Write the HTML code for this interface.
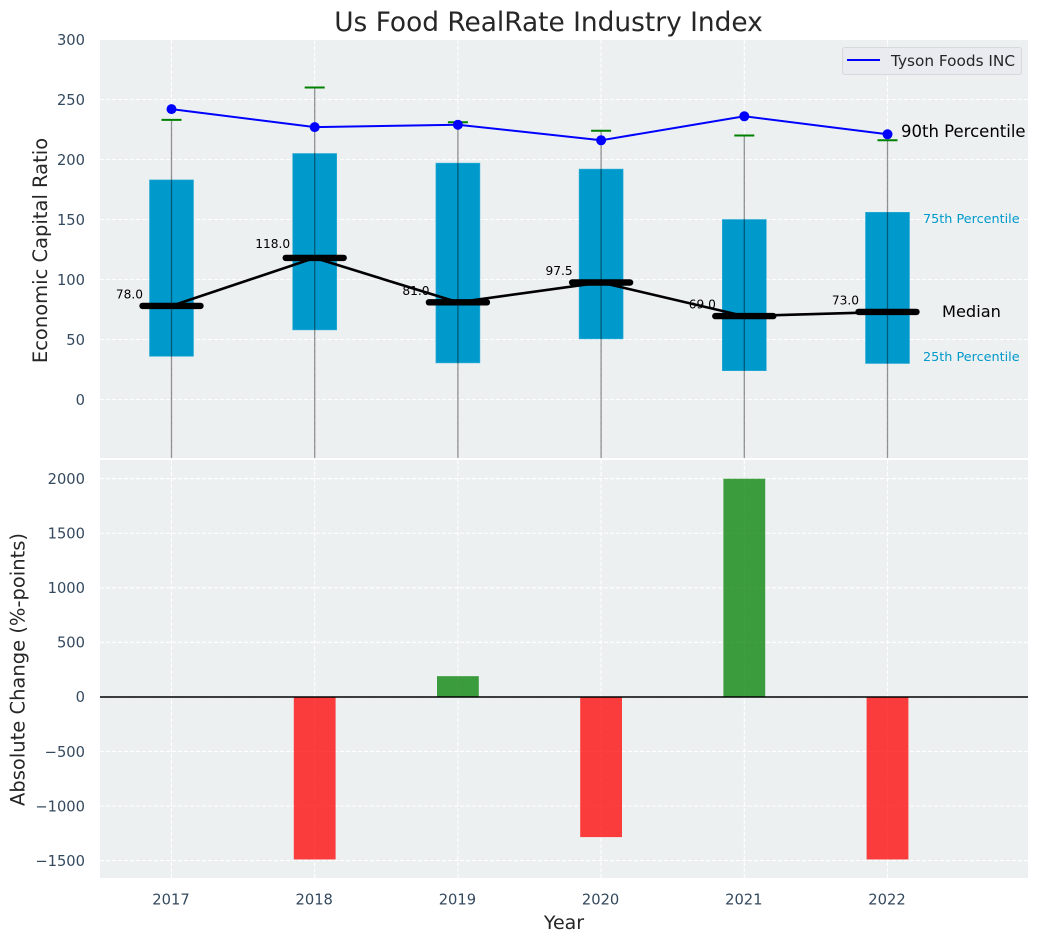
<!DOCTYPE html>
<html lang="en">
<head>
<meta charset="utf-8">
<title>Us Food RealRate Industry Index</title>
<style>
html,body{margin:0;padding:0;background:#fff;}
svg{display:block;font-family:"DejaVu Sans","Liberation Sans",sans-serif;}
</style>
</head>
<body>
<svg id="chart" width="1039" height="942" viewBox="0 0 1039 942" xmlns="http://www.w3.org/2000/svg">
  <defs>
    <clipPath id="top-clip"><rect x="100" y="40" width="928" height="418"/></clipPath>
    <clipPath id="bottom-clip"><rect x="100" y="460" width="928" height="418"/></clipPath>
  </defs>
  <rect x="100" y="40" width="928" height="418" fill="#ecf0f1"/>
  <rect x="100" y="460" width="928" height="418" fill="#ecf0f1"/>
  <g id="top-grid"></g>
  <g id="bottom-grid"></g>
  <g id="top-marks" clip-path="url(#top-clip)"></g>
  <g id="bottom-marks" clip-path="url(#bottom-clip)"></g>
  <g id="labels"></g>
  <text x="548.5" y="31" font-size="26.4" text-anchor="middle" fill="#262626">Us Food RealRate Industry Index</text>
  <text transform="translate(47,250.5) rotate(-90)" font-size="19.5" text-anchor="middle" fill="#262626">Economic Capital Ratio</text>
  <text transform="translate(24.5,669.5) rotate(-90)" font-size="19.5" text-anchor="middle" fill="#262626">Absolute Change (%-points)</text>
  <text x="564" y="929" font-size="19" text-anchor="middle" fill="#262626">Year</text>
  <text x="901" y="137" font-size="16.5" fill="#000">90th Percentile</text>
  <text x="942" y="317" font-size="16.2" fill="#000">Median</text>
  <text x="923" y="223" font-size="12.8" fill="#0099cc">75th Percentile</text>
  <text x="923" y="361" font-size="12.8" fill="#0099cc">25th Percentile</text>
  <g>
    <rect x="842.5" y="47.5" width="179" height="27" rx="2.5" fill="#e9ebf0" stroke="#d6d8da"/>
    <line x1="847" x2="880" y1="60" y2="60" stroke="#0000ff" stroke-width="2"/>
    <text x="891" y="66" font-size="15.3" fill="#262626">Tyson Foods INC</text>
  </g>
</svg>
<script>
const years = [2017, 2018, 2019, 2020, 2021, 2022];
const q1 = [36, 58, 30.5, 50.5, 24, 30];
const q3 = [183, 205, 197, 192, 150, 156];
const median = [78, 118, 81, 97.5, 69.5, 73];
const medianLabels = ["78.0", "118.0", "81.0", "97.5", "69.0", "73.0"];
const p90 = [233, 260, 231, 224, 220, 216];
const p10 = [-60, -60, -60, -60, -60, -60];
const tyson = [242, 227, 229, 216, 236, 221];
const change = [0, -1490, 190, -1285, 2000, -1490];
const topTicks = [0, 50, 100, 150, 200, 250, 300];
const bottomTicks = [-1500, -1000, -500, 0, 500, 1000, 1500, 2000];

const NS = 'http://www.w3.org/2000/svg';
const xScale = v => 171.5 + (v - 2017) * 143.2;
const yTop = v => 399.5 - v * 1.2;
const yBottom = v => 696.9 - v * 0.1091;

function make(tag, parent, attrs, text) {
  const el = document.createElementNS(NS, tag);
  for (const k in attrs) el.setAttribute(k, attrs[k]);
  if (text !== undefined) el.textContent = text;
  parent.appendChild(el);
  return el;
}

const topGrid = document.getElementById('top-grid');
const bottomGrid = document.getElementById('bottom-grid');
const topMarks = document.getElementById('top-marks');
const bottomMarks = document.getElementById('bottom-marks');
const labels = document.getElementById('labels');
const gridStyle = {stroke: '#ffffff', 'stroke-width': 1.1, 'stroke-dasharray': '4.2 1.8'};

years.forEach(yr => {
  const x = xScale(yr);
  const a = make('line', topGrid, Object.assign({x1: x, x2: x, y1: 40, y2: 458}, gridStyle));
  
  
  const b = make('line', bottomGrid, Object.assign({x1: x, x2: x, y1: 460, y2: 878}, gridStyle));
  
  
  const t = make('text', labels, {x: x - 0.5, y: 904.5, 'font-size': 14.7, 'text-anchor': 'middle', fill: '#34495e'}, String(yr));
  
  
});

topTicks.forEach(v => {
  const y = yTop(v);
  if (v < 300) {
    const g = make('line', topGrid, Object.assign({x1: 100, x2: 1028, y1: y, y2: y}, gridStyle));
    
    
  }
  const t = make('text', labels, {x: 85, y: y + 5.3, 'font-size': 14.7, 'text-anchor': 'end', fill: '#34495e'}, String(v));
  
  
});

bottomTicks.forEach(v => {
  const y = yBottom(v);
  const g = make('line', bottomGrid, Object.assign({x1: 100, x2: 1028, y1: y, y2: y}, gridStyle));
  
  
  const t = make('text', labels, {x: 85, y: y + 5.3, 'font-size': 14.7, 'text-anchor': 'end', fill: '#34495e'}, String(v).replace('-', '\u2212'));
  
  
});

years.forEach((yr, i) => {
  const x = xScale(yr);
  const box = make('rect', topMarks, {x: x - 22, y: yTop(q3[i]), width: 44, height: yTop(q1[i]) - yTop(q3[i]), fill: '#0099cc', stroke: '#33add6', 'stroke-width': 0.6});
  
  
});

years.forEach((yr, i) => {
  const x = xScale(yr);
  const w = make('line', topMarks, {x1: x, x2: x, y1: yTop(p90[i]), y2: yTop(p10[i]), stroke: '#000', 'stroke-opacity': 0.42, 'stroke-width': 1.3});
  
  
  const c = make('line', topMarks, {x1: x - 10, x2: x + 10, y1: yTop(p90[i]), y2: yTop(p90[i]), stroke: '#008000', 'stroke-width': 2});
  
  
});

const medianPath = make('polyline', topMarks, {points: years.map((yr, i) => xScale(yr) + ',' + yTop(median[i])).join(' '), fill: 'none', stroke: '#000', 'stroke-width': 2.6});



years.forEach((yr, i) => {
  const x = xScale(yr);
  const m = make('line', topMarks, {x1: x - 29, x2: x + 29, y1: yTop(median[i]), y2: yTop(median[i]), stroke: '#000', 'stroke-width': 6.4, 'stroke-linecap': 'round'});
  
  
  const lift = median[i] > 100 ? 10 : 7.5;
  const t = make('text', topMarks, {x: x - 42, y: yTop(median[i]) - lift, 'font-size': 12.2, 'text-anchor': 'middle', fill: '#000'}, medianLabels[i]);
  
  
});

const tysonPath = make('polyline', topMarks, {points: years.map((yr, i) => xScale(yr) + ',' + yTop(tyson[i])).join(' '), fill: 'none', stroke: '#0000ff', 'stroke-width': 2});



years.forEach((yr, i) => {
  const d = make('circle', topMarks, {cx: xScale(yr), cy: yTop(tyson[i]), r: 5, fill: '#0000ff'});
  
  
});

years.forEach((yr, i) => {
  if (change[i] === 0) return;
  const x = xScale(yr);
  const y0 = yBottom(0);
  const y1 = yBottom(change[i]);
  const bar = make('rect', bottomMarks, {x: x - 20.9, y: Math.min(y0, y1), width: 41.8, height: Math.abs(y1 - y0), fill: change[i] > 0 ? '#008000' : '#ff0000', 'fill-opacity': 0.75});
  
  
});

const zero = make('line', bottomMarks, {x1: 100, x2: 1028, y1: 697, y2: 697, stroke: '#000', 'stroke-width': 1.4});


</script>
</body>
</html>
